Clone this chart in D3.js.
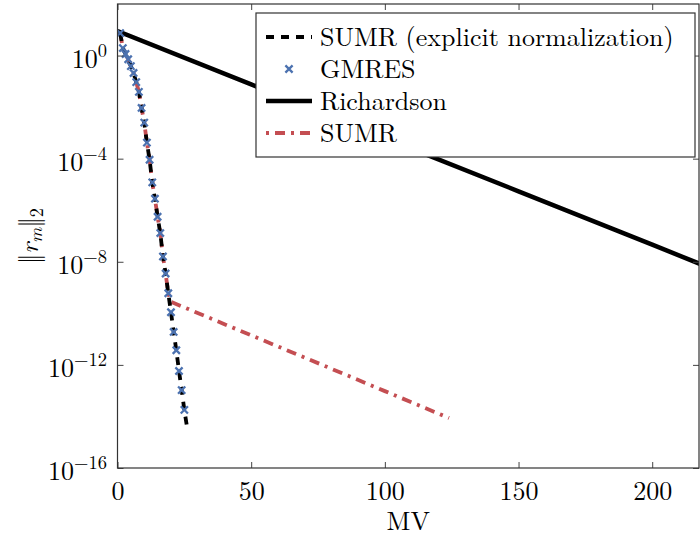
<!DOCTYPE html>
<html>
<head>
<meta charset="utf-8">
<script src="https://cdn.jsdelivr.net/npm/d3@7"></script>
<style>
  body { margin: 0; background: #fff; }
  svg text { font-family: "Latin Modern Roman", "Liberation Serif", serif; fill: #000; }
</style>
</head>
<body>
<svg id="chart" width="700" height="539"></svg>
<script>
// residual norms
const gmresMV = [1, 2, 3, 4, 5, 6, 7, 8, 9, 10, 11, 12, 13, 14, 15, 16, 17, 18, 19, 20, 21, 22, 23, 24, 25];
const gmresRes = [7.4, 1.95, 1.15, 0.72, 0.39, 0.21, 0.093, 0.039, 9.3e-3, 2.5e-3, 4.2e-4, 9.1e-5,
  1.2e-5, 2.8e-6, 5.6e-7, 1.3e-7, 1.6e-8, 3.5e-9, 6.0e-10, 1.1e-10, 1.9e-11, 3.7e-12, 5.8e-13, 1.05e-13, 1.8e-14];

const sumrExpMV = [1, 2, 3, 4, 5, 6, 7, 8, 9, 10, 11, 12, 13, 14, 15, 16, 17, 18, 19, 20, 21, 22, 23, 24, 25, 26];
const sumrExpRes = [7.4, 1.95, 1.15, 0.72, 0.39, 0.21, 0.093, 0.039, 9.3e-3, 2.5e-3, 4.2e-4, 9.1e-5,
  1.2e-5, 2.8e-6, 5.6e-7, 1.3e-7, 1.6e-8, 3.5e-9, 6.0e-10, 1.1e-10, 1.9e-11, 3.7e-12, 5.8e-13, 1.05e-13, 1.8e-14, 3.9e-15];

const sumrMV = [1, 2, 3, 4, 5, 6, 7, 8, 9, 10, 11, 12, 13, 14, 15, 16, 17, 18, 19, 20, 40, 60, 80, 100, 124];
const sumrRes = [7.4, 1.95, 1.15, 0.72, 0.39, 0.21, 0.093, 0.039, 9.3e-3, 2.5e-3, 4.2e-4, 9.1e-5,
  1.2e-5, 2.8e-6, 5.6e-7, 1.3e-7, 1.6e-8, 3.5e-9, 6.0e-10, 2.8e-10, 3.8e-11, 5.2e-12, 7.1e-13, 9.6e-14, 8.7e-15];

const richMV = [0, 50, 100, 150, 200, 250];
const richRes = [8.9, 7.6e-2, 6.3e-4, 5.4e-6, 4.6e-8, 3.8e-10];

const xTicks = [0, 50, 100, 150, 200];
const yTickExp = [0, -4, -8, -12, -16];

const legendNames = ["SUMR (explicit normalization)", "GMRES", "Richardson", "SUMR"];

const blue = "#4c72b0", red = "#c44e52";
const font = "Latin Modern Roman";
const fs = 26, fsSmall = 18.5;

const svg = d3.select("#chart");
const pL = 117.5, pR = 699, pT = 4, pB = 468;

const x = d3.scaleLinear().domain([0, 217.5]).range([pL, pR]);
const y = d3.scaleLog().domain([1e-16, 1e2]).range([pB, pT]);

svg.append("clipPath").attr("id", "clip")
  .append("rect").attr("x", pL).attr("y", pT).attr("width", pR - pL).attr("height", pB - pT);

const plot = svg.append("g").attr("clip-path", "url(#clip)");
const line = d3.line().x(d => x(d[0])).y(d => y(d[1]));

// Richardson
plot.append("path")
  .attr("d", line(richMV.map((m, i) => [m, richRes[i]])))
  .attr("fill", "none").attr("stroke", "#000").attr("stroke-width", 4.5);

// SUMR (dash-dotted red)
plot.append("path")
  .attr("d", line(sumrMV.map((m, i) => [m, sumrRes[i]])))
  .attr("fill", "none").attr("stroke", red).attr("stroke-width", 3.8)
  .attr("stroke-dasharray", "10,6,3,6");

// SUMR explicit normalization (dashed black)
plot.append("path")
  .attr("d", line(sumrExpMV.map((m, i) => [m, sumrExpRes[i]])))
  .attr("fill", "none").attr("stroke", "#000").attr("stroke-width", 3.8)
  .attr("stroke-dasharray", "8,7");

// GMRES markers
function drawX(g, cx, cy, r) {
  g.append("path")
    .attr("d", `M${cx - r},${cy - r}L${cx + r},${cy + r}M${cx - r},${cy + r}L${cx + r},${cy - r}`)
    .attr("stroke", blue).attr("stroke-width", 2.3).attr("fill", "none");
}
gmresMV.forEach((m, i) => drawX(plot, x(m), y(gmresRes[i]), 3.6));

// axes
const axisColor = "#444";
const xAxis = svg.append("g").attr("transform", `translate(0,${pB})`)
  .call(d3.axisBottom(x).tickValues(xTicks).tickSize(-6).tickPadding(14).tickFormat(d3.format("d")));
const xTop = svg.append("g").attr("transform", `translate(0,${pT})`)
  .call(d3.axisTop(x).tickValues(xTicks).tickSize(-6).tickFormat(""));
const yVals = yTickExp.map(e => Math.pow(10, e));
const yAxis = svg.append("g").attr("transform", `translate(${pL},0)`)
  .call(d3.axisLeft(y).tickValues(yVals).tickSize(-6).tickFormat(""));
const yRight = svg.append("g").attr("transform", `translate(${pR},0)`)
  .call(d3.axisRight(y).tickValues(yVals).tickSize(-6).tickFormat(""));
[xAxis, xTop, yAxis, yRight].forEach(a => {
  a.attr("font-family", font);
  a.select(".domain").remove();
  a.selectAll("line").attr("stroke", axisColor).attr("stroke-width", 1);
});
xAxis.selectAll("text").attr("font-size", fs).attr("fill", "#000");

svg.append("rect").attr("x", pL).attr("y", pT).attr("width", pR - pL).attr("height", pB - pT)
  .attr("fill", "none").attr("stroke", "#333").attr("stroke-width", 1.2);

// y tick labels 10^e
yTickExp.forEach(e => {
  const t = svg.append("text")
    .attr("x", 107).attr("y", y(Math.pow(10, e)) + 12)
    .attr("text-anchor", "end").attr("font-size", fs);
  t.append("tspan").text("10");
  t.append("tspan").attr("dy", -11).attr("font-size", fsSmall).text(e < 0 ? "\u2212" + (-e) : e);
});

// axis labels
svg.append("text").attr("x", (pL + pR) / 2).attr("y", 530)
  .attr("text-anchor", "middle").attr("font-size", fs).text("MV");

const yl = svg.append("text")
  .attr("transform", `translate(38,${(pT + pB) / 2}) rotate(-90)`)
  .attr("text-anchor", "middle").attr("font-size", fs);
yl.append("tspan").text("\u2016");
yl.append("tspan").attr("font-style", "italic").text("r");
yl.append("tspan").attr("font-style", "italic").attr("font-size", fsSmall).attr("dy", 4).text("m");
yl.append("tspan").attr("dy", -4).text("\u2016");
yl.append("tspan").attr("font-size", fsSmall).attr("dy", 5).text("2");

// legend
const lg = svg.append("g");
lg.append("rect").attr("x", 256).attr("y", 13).attr("width", 439).attr("height", 144)
  .attr("fill", "#fff").attr("stroke", "#333").attr("stroke-width", 1.2);
const rowY = [37, 69, 101, 133];
const lx0 = 266, lx1 = 312;
lg.append("line").attr("x1", lx0).attr("x2", lx1).attr("y1", rowY[0]).attr("y2", rowY[0])
  .attr("stroke", "#000").attr("stroke-width", 3.8).attr("stroke-dasharray", "8,7");
drawX(lg, (lx0 + lx1) / 2, rowY[1], 3.6);
lg.append("line").attr("x1", lx0).attr("x2", lx1).attr("y1", rowY[2]).attr("y2", rowY[2])
  .attr("stroke", "#000").attr("stroke-width", 4.5);
lg.append("line").attr("x1", lx0).attr("x2", lx1).attr("y1", rowY[3]).attr("y2", rowY[3])
  .attr("stroke", red).attr("stroke-width", 3.8).attr("stroke-dasharray", "3,6,10,6");
legendNames.forEach((n, i) => {
  lg.append("text").attr("x", 320).attr("y", rowY[i] + 9).attr("font-size", fs).text(n);
});
</script>
</body>
</html>
